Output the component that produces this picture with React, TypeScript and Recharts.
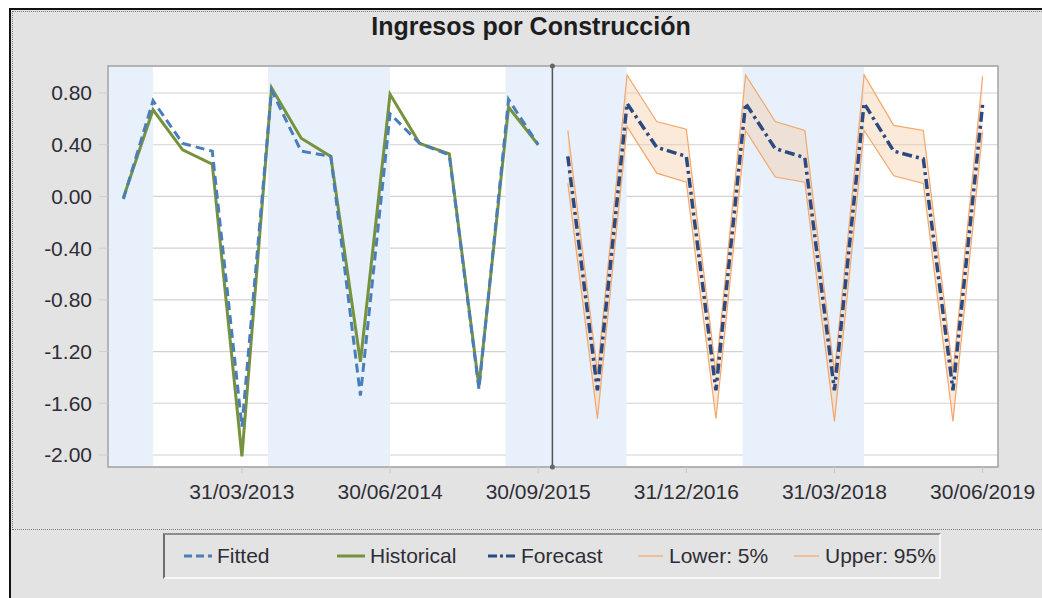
import React from "react";
import {
  Area,
  CartesianGrid,
  ComposedChart,
  Legend,
  Line,
  ReferenceArea,
  ReferenceDot,
  ReferenceLine,
  XAxis,
  YAxis,
} from "recharts";

// quarter-end dates, one per data point
const quarters = [
  "31/03/2012", "30/06/2012", "30/09/2012", "31/12/2012",
  "31/03/2013", "30/06/2013", "30/09/2013", "31/12/2013",
  "31/03/2014", "30/06/2014", "30/09/2014", "31/12/2014",
  "31/03/2015", "30/06/2015", "30/09/2015", "31/12/2015",
  "31/03/2016", "30/06/2016", "30/09/2016", "31/12/2016",
  "31/03/2017", "30/06/2017", "30/09/2017", "31/12/2017",
  "31/03/2018", "30/06/2018", "30/09/2018", "31/12/2018",
  "31/03/2019", "30/06/2019",
];

const historical = [
  -0.01, 0.67, 0.36, 0.25, -2.01, 0.84, 0.45, 0.31, -1.28, 0.79, 0.41, 0.33, -1.47, 0.69, 0.4,
];
const fitted = [
  -0.02, 0.74, 0.41, 0.35, -1.78, 0.82, 0.35, 0.31, -1.54, 0.64, 0.41, 0.32, -1.49, 0.75, 0.4,
];
const forecast = [
  0.31, -1.5, 0.72, 0.38, 0.31, -1.5, 0.72, 0.37, 0.3, -1.5, 0.72, 0.35, 0.29, -1.5, 0.71,
];
const lower5 = [
  0.1, -1.72, 0.54, 0.18, 0.11, -1.72, 0.51, 0.15, 0.11, -1.74, 0.51, 0.16, 0.1, -1.74, 0.5,
];
const upper95 = [
  0.51, -1.36, 0.94, 0.58, 0.52, -1.36, 0.94, 0.58, 0.51, -1.36, 0.94, 0.55, 0.51, -1.36, 0.93,
];

const yTicks = [0.8, 0.4, 0, -0.4, -0.8, -1.2, -1.6, -2.0];
const xTickDates = ["31/03/2013", "30/06/2014", "30/09/2015", "31/12/2016", "31/03/2018", "30/06/2019"];

// alternating shaded spans, in quarter index units
const shadedSpans: [number, number][] = [
  [-0.52, 1.0],
  [4.88, 9.0],
  [12.9, 16.98],
  [20.9, 25.0],
];

const forecastStart = 15;
const X_MIN = -0.52;
const X_MAX = 29.52;
const Y_MIN = -2.093;
const Y_MAX = 1.009;

const data = quarters.map((date, i) => {
  const f = i - forecastStart;
  return {
    idx: i,
    date,
    historical: i < forecastStart ? historical[i] : undefined,
    fitted: i < forecastStart ? fitted[i] : undefined,
    forecast: f >= 0 ? forecast[f] : undefined,
    lower: f >= 0 ? lower5[f] : undefined,
    upper: f >= 0 ? upper95[f] : undefined,
    band: f >= 0 ? [lower5[f], upper95[f]] : undefined,
  };
});

const C = {
  fitted: "#4a7ebb",
  historical: "#76923c",
  forecast: "#2b4a82",
  bound: "#f3a76a",
  shade: "#e7f0fb",
  grid: "#d2d2d2",
  text: "#2e2e36",
};

const FONT = "'Liberation Sans', Arial, sans-serif";
const legendOrder = ["Fitted", "Historical", "Forecast", "Lower: 5%", "Upper: 95%"];
// left offset of each legend entry inside the legend box
const legendSlots = [18, 171, 322, 470, 626];

function Swatch({ name }: { name: string }) {
  if (name === "Fitted")
    return (
      <svg width={30} height={10}>
        <line x1={1} y1={5} x2={29} y2={5} stroke={C.fitted} strokeWidth={3} strokeDasharray="8 4" />
      </svg>
    );
  if (name === "Historical")
    return (
      <svg width={30} height={10}>
        <line x1={1} y1={5} x2={29} y2={5} stroke={C.historical} strokeWidth={3} />
      </svg>
    );
  if (name === "Forecast")
    return (
      <svg width={30} height={10}>
        <line x1={1} y1={5} x2={29} y2={5} stroke={C.forecast} strokeWidth={3} strokeDasharray="9 3 3 3" />
      </svg>
    );
  return (
    <svg width={30} height={10}>
      <line x1={3} y1={5} x2={28} y2={5} stroke={C.bound} strokeWidth={1.2} />
    </svg>
  );
}

function LegendBox(props: any) {
  const items = [...(props.payload || [])]
    .filter((p: any) => legendOrder.includes(p.value))
    .sort((a: any, b: any) => legendOrder.indexOf(a.value) - legendOrder.indexOf(b.value));
  return (
    <div
      style={{
        position: "relative",
        boxSizing: "border-box",
        width: 778,
        height: 46,
        borderTop: "2px solid #8c8c8c",
        borderLeft: "2px solid #6e6e6e",
        borderRight: "2px solid #f8f8f8",
        borderBottom: "2px solid #f8f8f8",
        fontFamily: FONT,
        fontSize: 21,
        color: C.text,
      }}
    >
      {items.map((p: any) => (
        <div
          key={p.value}
          style={{
            position: "absolute",
            left: legendSlots[legendOrder.indexOf(p.value)],
            top: 0,
            height: 42,
            display: "flex",
            alignItems: "center",
            gap: 4,
            whiteSpace: "nowrap",
          }}
        >
          <Swatch name={p.value} />
          <span>{p.value}</span>
        </div>
      ))}
    </div>
  );
}

export default function App() {
  return (
    <div
      style={{
        position: "absolute",
        left: 0,
        top: 0,
        width: 1042,
        height: 598,
        overflow: "hidden",
        background: "#fff",
      }}
    >
      <div
        style={{
          position: "absolute",
          left: 9,
          top: 8,
          width: 1040,
          height: 600,
          background: "#e3e3e3",
          borderLeft: "2px solid #111",
          borderTop: "2px solid #111",
        }}
      />
      <div
        style={{
          position: "absolute",
          left: 12,
          top: 11,
          width: 1040,
          height: 517,
          border: "1px dotted #7a7a7a",
        }}
      />
      <div
        style={{
          position: "absolute",
          left: 0,
          top: 12,
          width: 1062,
          textAlign: "center",
          fontFamily: FONT,
          fontWeight: "bold",
          fontSize: 25,
          color: "#1e1e1e",
        }}
      >
        Ingresos por Construcción
      </div>
      <div style={{ position: "absolute", left: 0, top: 0 }}>
        <ComposedChart width={1042} height={598} data={data} margin={{ top: 66, right: 44, bottom: 101, left: 0 }}>
          <CartesianGrid fill="#ffffff" stroke="none" vertical={false} horizontal={false} />
          {shadedSpans.map(([a, b], i) => (
            <ReferenceArea key={i} x1={a} x2={b} y1={Y_MIN} y2={Y_MAX} fill={C.shade} fillOpacity={1} stroke="none" />
          ))}
          <CartesianGrid vertical={false} stroke={C.grid} strokeWidth={1.2} fill="none" />
          <XAxis
            type="number"
            dataKey="idx"
            domain={[X_MIN, X_MAX]}
            ticks={xTickDates.map((d) => quarters.indexOf(d))}
            tickFormatter={(v) => quarters[v] ?? ""}
            axisLine={false}
            tickLine={{ stroke: "#c8c8c8" }}
            tickSize={6}
            tickMargin={11}
            height={30}
            tick={{ fill: C.text, fontSize: 21, fontFamily: FONT }}
            allowDataOverflow
          />
          <YAxis
            type="number"
            domain={[Y_MIN, Y_MAX]}
            ticks={yTicks}
            tickFormatter={(v) => v.toFixed(2)}
            axisLine={false}
            tickLine={{ stroke: "#cfcfcf" }}
            tickSize={9}
            tickMargin={7}
            width={108}
            tick={{ fill: C.text, fontSize: 21, fontFamily: FONT }}
            allowDataOverflow
          />
          <Area
            dataKey="band"
            stroke="none"
            fill="#f6c9a3"
            fillOpacity={0.4}
            isAnimationActive={false}
            legendType="none"
            connectNulls={false}
          />
          <Line
            dataKey="lower"
            name="Lower: 5%"
            stroke={C.bound}
            strokeWidth={1.2}
            dot={false}
            isAnimationActive={false}
          />
          <Line
            dataKey="upper"
            name="Upper: 95%"
            stroke={C.bound}
            strokeWidth={1.2}
            dot={false}
            isAnimationActive={false}
          />
          <Line
            dataKey="historical"
            name="Historical"
            stroke={C.historical}
            strokeWidth={3}
            dot={false}
            isAnimationActive={false}
          />
          <Line
            dataKey="fitted"
            name="Fitted"
            stroke={C.fitted}
            strokeWidth={3}
            strokeDasharray="9 5"
            dot={false}
            isAnimationActive={false}
          />
          <Line
            dataKey="forecast"
            name="Forecast"
            stroke={C.forecast}
            strokeWidth={3.5}
            strokeDasharray="10 4 3 4"
            dot={false}
            isAnimationActive={false}
          />
          <ReferenceLine x={14.48} stroke="#555" strokeWidth={1.5} />
          <ReferenceDot x={14.48} y={Y_MAX} r={2.5} fill="#666" stroke="none" />
          <ReferenceDot x={14.48} y={Y_MIN} r={2.5} fill="#666" stroke="none" />
          <ReferenceArea
            x1={X_MIN}
            x2={X_MAX}
            y1={Y_MIN}
            y2={Y_MAX}
            fill="none"
            stroke="#a4a4a4"
            strokeWidth={1.5}
          />
          <Legend
            layout="horizontal"
            verticalAlign="middle"
            align="center"
            content={<LegendBox />}
            wrapperStyle={{ top: 533, left: 163, width: 778, height: 46 }}
          />
        </ComposedChart>
      </div>
    </div>
  );
}
